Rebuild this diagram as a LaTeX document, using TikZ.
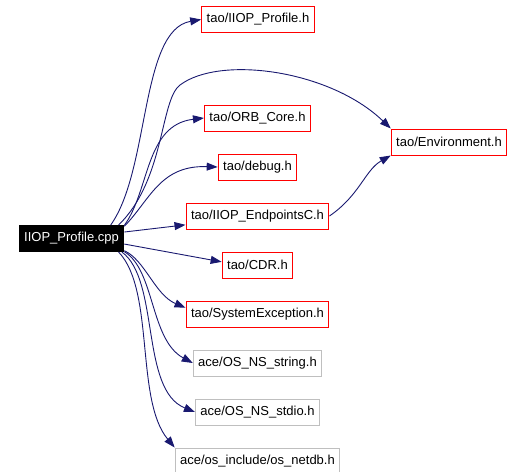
\documentclass[tikz,border=0pt]{standalone}
\usepackage{fontspec}
\setmainfont{Liberation Sans}
\usetikzlibrary{positioning,arrows.meta}
\definecolor{edgeblue}{RGB}{25,25,112}
\definecolor{boxgray}{RGB}{191,191,191}

\begin{document}
\begin{tikzpicture}[x=1pt, y=-1pt,
    filenode/.style={rectangle, draw=red, line width=1pt, inner xsep=5pt, inner ysep=0pt, minimum height=26pt, font=\fontsize{13}{15}\selectfont},
    extnode/.style={filenode, draw=boxgray},
    rootnode/.style={filenode, draw=black, fill=black, text=white},
    dep/.style={draw=edgeblue, line width=0.9pt, -{Triangle[length=11pt,width=8pt]}}]

        \useasboundingbox (0,0) rectangle (523,472);

        \node[rootnode] (1) at (71.5,238.5) {IIOP\_Profile.cpp};
        \node[filenode] (2) at (258,19.5) {tao/IIOP\_Profile.h};
        \node[filenode] (3) at (257.5,118) {tao/ORB\_Core.h};
        \node[filenode] (4) [below=22pt of 3] {tao/debug.h};
        \node[filenode] (5) [below=22pt of 4] {tao/IIOP\_EndpointsC.h};
        \node[filenode] (6) [below=22pt of 5] {tao/CDR.h};
        \node[filenode] (7) [below=22pt of 6] {tao/SystemException.h};
        \node[extnode] (8) [below=22pt of 7] {ace/OS\_NS\_string.h};
        \node[extnode] (9) [below=22pt of 8] {ace/OS\_NS\_stdio.h};
        \node[extnode] (10) [below=22pt of 9] {ace/os\_include/os\_netdb.h};
        \node[filenode] (11) at (449,142) {tao/Environment.h};

        \draw[dep] (1.19) .. controls (150,170) and (140,30) .. (2.west);
        \draw[dep] (1.16) .. controls (165,180) and (160,100) .. (180,85) .. controls (220,55) and (330,70) .. (11.north west);
        \draw[dep] (1.14) .. controls (150,190) and (145,125) .. (3.west);
        \draw[dep] (1.13) .. controls (150,200) and (160,165) .. (4.west);
        \draw[dep] (1.7) -- (5.187);
        \draw[dep] (5.east) .. controls (360,195) and (365,170) .. (11.south west);
        \draw[dep] (1.-6) -- (6.175);
        \draw[dep] (1.-13) .. controls (145,260) and (155,295) .. (7.175);
        \draw[dep] (1.-14) .. controls (155,270) and (150,340) .. (8.west);
        \draw[dep] (1.-15) .. controls (160,280) and (140,390) .. (9.west);
        \draw[dep] (1.-16) .. controls (155,290) and (135,400) .. (10.north west);

\end{tikzpicture}
\end{document}
